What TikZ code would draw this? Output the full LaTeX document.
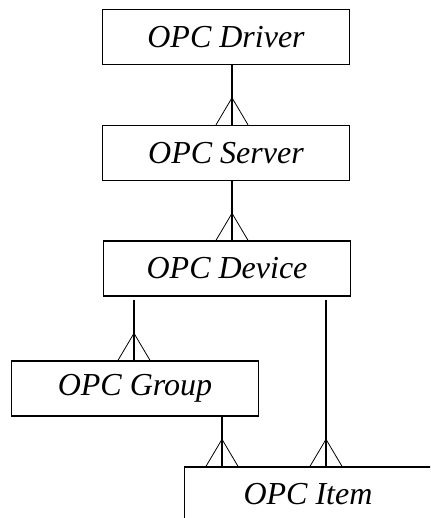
\documentclass[tikz,border=0pt]{standalone}
\usepackage{fontspec}
\setmainfont{Liberation Serif}

\newcommand\crowfoot[1]{\draw[foot] ([xshift=-16pt]#1) -- ([yshift=27pt]#1) -- ([xshift=16pt]#1);}

\begin{document}
\begin{tikzpicture}[x=1pt,y=-1pt,font=\itshape\fontsize{32}{38}\selectfont,
  cls/.style={draw,line width=1.4pt,minimum width=247pt,minimum height=55pt,inner sep=0pt},
  link/.style={line width=1.4pt},
  foot/.style={line width=.8pt}]
\clip (0,0) rectangle (430,518);
\node[cls] (drv) at (226,37) {OPC Driver};
\node[cls] (srv) at (226,153) {OPC Server};
\node[cls] (dev) at (227,268.5) {OPC Device};
\node[cls] (grp) at (135,388.5) {OPC Group};
\node[cls] (itm) at (308,494.5) {OPC Item};

% parent -> child, with the many-end at the child
\foreach \a/\b/\dx/\gap in {drv/srv/6/0,srv/dev/6/0,dev/grp/-93/3,dev/itm/99/3,grp/itm/87/0}{
  \draw[link,shorten <=\gap pt] ([xshift=\dx pt]\a.south) -- ([xshift=\dx pt]\a.south |- \b.north) coordinate (f);
  \crowfoot{f}
}
\end{tikzpicture}
\end{document}
